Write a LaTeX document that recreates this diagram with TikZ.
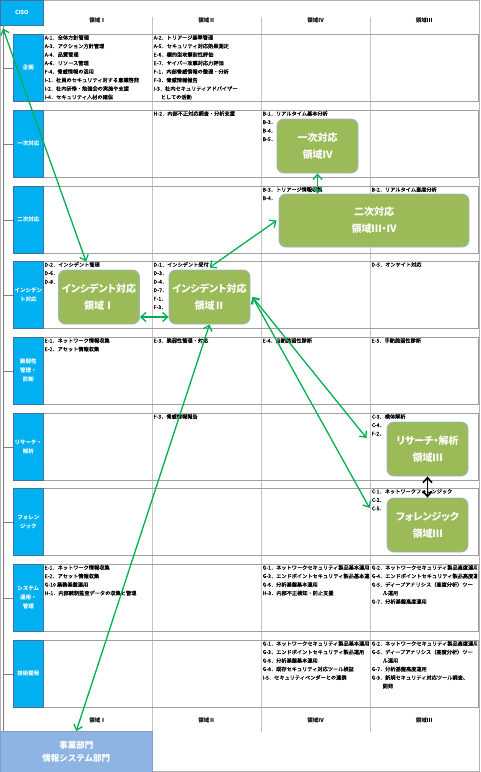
\documentclass[tikz,border=0pt]{standalone}
\usepackage{fontspec}
\setmainfont{Noto Sans CJK JP}
\newfontfamily\jpbox[RawFeature=+palt]{Noto Sans CJK JP}
\newfontfamily\celljp[FakeBold=0.4]{Noto Sans CJK JP}
\usetikzlibrary{arrows.meta}
\definecolor{lblue}{HTML}{00B0F0}
\definecolor{lborder}{HTML}{41719C}
\definecolor{boxgreen}{HTML}{9BBB59}
\definecolor{boxedge}{HTML}{9FB3C8}
\definecolor{agreen}{HTML}{00B050}
\definecolor{rowline}{HTML}{A0A0A0}
\definecolor{colline}{HTML}{C4C4C4}
\definecolor{bizfill}{HTML}{8DB4E2}
\definecolor{bizedge}{HTML}{7F9FC8}
\tikzset{
  rowframe/.style={draw=rowline, line width=1pt, minimum width=465pt, minimum height=67pt, anchor=north west, inner sep=0pt},
  lbl/.style={fill=lblue, draw=lborder, line width=0.6pt, text=white, align=center, inner sep=0pt,
    font=\bfseries\fontsize{5.5}{9}\selectfont},
  rowlbl/.style={lbl, minimum width=30pt, minimum height=67pt, anchor=north west},
  cell/.style={anchor=north west, align=left, inner sep=0pt, font=\celljp\fontsize{5.2}{8.5}\selectfont},
  hdr/.style={font=\bfseries\fontsize{5.5}{7}\selectfont, inner sep=0pt},
  gbox/.style={rounded corners=7pt, fill=boxgreen, draw=boxedge, line width=0.9pt, text=white, align=center,
    minimum width=81pt, minimum height=54pt, inner sep=0pt, font=\jpbox\bfseries\fontsize{10}{17}\selectfont},
  garrow/.style={draw=agreen, line width=1.3pt, {Straight Barb[length=5pt,width=9pt]}-{Straight Barb[length=5pt,width=9pt]}},
  barrow/.style={draw=black, line width=1.6pt, {Straight Barb[length=5pt,width=9pt]}-{Straight Barb[length=5pt,width=9pt]}},
  treeline/.style={draw=gray, line width=0.6pt},
  colsep/.style={draw=colline, line width=0.8pt}
}
\begin{document}
\begin{tikzpicture}[x=1pt,y=-1pt]
\useasboundingbox (0,0) rectangle (480,772);
\fill[white] (0,0) rectangle (480,772);
\draw[draw=gray!60, line width=0.8pt] (0.5,0.5) rectangle (479.5,771.5);

% column separators
\draw[colsep] (152,17) -- (152,732);
\draw[colsep] (261,17) -- (261,732);
\draw[colsep] (370,17) -- (370,732);

% row frames
\node[rowframe] (rf1) at (13,34) {};
\node[rowframe] (rf2) at (13,110) {};
\node[rowframe] (rf3) at (13,186) {};
\node[rowframe] (rf4) at (13,261) {};
\node[rowframe] (rf5) at (13,337) {};
\node[rowframe] (rf6) at (13,413) {};
\node[rowframe] (rf7) at (13,488) {};
\node[rowframe] (rf8) at (13,564) {};
\node[rowframe] (rf9) at (13,640) {};

% CISO
\node[lbl, minimum width=43pt, minimum height=25pt, anchor=north west] (ciso) at (0,0) {CISO};

% row labels
\node[rowlbl] (l1) at (13,34) {企画};
\node[rowlbl] (l2) at (13,110) {一次対応};
\node[rowlbl] (l3) at (13,186) {二次対応};
\node[rowlbl] (l4) at (13,261) {インシデン\\ト対応};
\node[rowlbl] (l5) at (13,337) {脆弱性\\管理・\\診断};
\node[rowlbl] (l6) at (13,413) {リサーチ・\\解析};
\node[rowlbl] (l7) at (13,488) {フォレン\\ジック};
\node[rowlbl] (l8) at (13,564) {システム\\運用・\\管理};
\node[rowlbl] (l9) at (13,640) {技術開発};

% tree line
\draw[treeline] (3,25) -- (3,731);
\foreach \n in {l1,l2,l3,l4,l5,l6,l7,l8,l9} {\draw[treeline] (\n.west) -- ++(-10pt,0);}

% headers
\node[hdr] (h1) at (97.5,20) {領域Ⅰ};
\node[hdr] (h2) at (206.5,20) {領域Ⅱ};
\node[hdr] (h3) at (315.5,20) {領域Ⅳ};
\node[hdr] (h4) at (424,20) {領域Ⅲ};
\node[hdr] (g1) at (97.5,720) {領域Ⅰ};
\node[hdr] (g2) at (206.5,720) {領域Ⅱ};
\node[hdr] (g3) at (315.5,720) {領域Ⅳ};
\node[hdr] (g4) at (424,720) {領域Ⅲ};

% cell texts
\node[cell] (c11) at (44.5,35) {A-1．全体方針管理\\A-3．アクション方針管理\\A-4．品質管理\\A-6．リソース管理\\F-4．脅威情報の活用\\I-1．社員のセキュリティ対する意識啓発\\I-2．社内研修・勉強会の実施や支援\\I-4．セキュリティ人材の確保};
\node[cell] (c12) at (153.5,35) {A-2．トリアージ基準管理\\A-5．セキュリティ対応効果測定\\E-6．標的型攻撃耐性評価\\E-7．サイバー攻撃対応力評価\\F-1．内部脅威情報の整理・分析\\F-3．脅威情報報告\\I-3．社内セキュリティアドバイザー\\\hspace*{7pt}としての活動};

\node[cell] (c22) at (153.5,111) {H-2．内部不正対応調査・分析支援};
\node[cell] (c23) at (262.5,111) {B-1．リアルタイム基本分析\\B-3．\\B-4．\\B-5．};

\node[cell] (c33) at (262.5,187) {B-3．トリアージ情報収集\\B-4．};
\node[cell] (c34) at (371.5,187) {B-2．リアルタイム高度分析};

\node[cell] (c41) at (44.5,262) {D-2．インシデント管理\\D-6．\\D-8．};
\node[cell] (c42) at (153.5,262) {D-1．インシデント受付\\D-3．\\D-4．\\D-7．\\F-1．\\F-3．};
\node[cell] (c44) at (371.5,262) {D-5．オンサイト対応};

\node[cell] (c51) at (44.5,338) {E-1．ネットワーク情報収集\\E-2．アセット情報収集};
\node[cell] (c52) at (153.5,338) {E-3．脆弱性管理・対応};
\node[cell] (c53) at (262.5,338) {E-4．自動脆弱性診断};
\node[cell] (c54) at (371.5,338) {E-5．手動脆弱性診断};

\node[cell] (c62) at (153.5,414) {F-3．脅威情報報告};
\node[cell] (c64) at (371.5,414) {C-3．検体解析\\C-4．\\F-2．};

\node[cell] (c74) at (371.5,489) {C-1．ネットワークフォレンジック\\C-2．\\C-5．};

\node[cell] (c81) at (44.5,565) {E-1．ネットワーク情報収集\\E-2．アセット情報収集\\G-10 業務基盤運用\\H-1．内部統制監査データの収集と管理};
\begin{scope}
\clip (261,560) rectangle (369.6,712);
\node[cell] (c83) at (262.5,565) {G-1．ネットワークセキュリティ製品基本運用\\G-3．エンドポイントセキュリティ製品基本運\\G-6．分析基盤基本運用\\H-3．内部不正検知・防止支援};
\node[cell] (c93) at (262.5,641) {G-1．ネットワークセキュリティ製品基本運用\\G-3．エンドポイントセキュリティ製品運用\\G-6．分析基盤基本運用\\G-8．既存セキュリティ対応ツール検証\\I-5．セキュリティベンダーとの連携};
\end{scope}
\begin{scope}
\clip (370.5,560) rectangle (477,712);
\node[cell] (c84) at (371.5,565) {G-2．ネットワークセキュリティ製品高度運用\\G-4．エンドポイントセキュリティ製品高度運\\G-5．ディープアナリシス（高度分析）ツー\\\hspace*{11pt}ル運用\\G-7．分析基盤高度運用};
\node[cell] (c94) at (371.5,641) {G-2．ネットワークセキュリティ製品高度運用\\G-5．ディープアナリシス（高度分析）ツー\\\hspace*{11pt}ル運用\\G-7．分析基盤高度運用\\G-9．新規セキュリティ対応ツール調査、\\\hspace*{11pt}開発};
\end{scope}

% bottom box
\node[fill=bizfill, draw=bizedge, line width=0.6pt, minimum width=152pt, minimum height=41pt, anchor=north west,
  text=white, align=center, inner sep=0pt, font=\bfseries\fontsize{8.5}{13}\selectfont] (biz) at (0,731) {事業部門\\情報システム部門};

% green boxes
\node[gbox] (b1) at (317.5,146) {一次対応\\領域Ⅳ};
\node[gbox, minimum width=190pt, minimum height=53pt] (b2) at (374,220.5) {二次対応\\領域Ⅲ・Ⅳ};
\node[gbox] (i1) at (99,297) {インシデント対応\\領域Ⅰ};
\node[gbox] (i2) at (209.5,297) {インシデント対応\\領域Ⅱ};
\node[gbox] (r) at (427.5,449) {リサーチ・解析\\領域Ⅲ};
\node[gbox] (f) at (427.5,525) {フォレンジック\\領域Ⅲ};

% arrows
\draw[garrow] ([shift={(3pt,-3pt)}]ciso.south west) -- ([shift={(-13pt,8pt)}]i1.north);
\draw[garrow] ([yshift=2pt]i2.north) -- ([xshift=-2pt]b2.west);
\draw[garrow] (b1.south) -- (b1.south |- b2.north);
\draw[garrow] ([yshift=-20pt]i1.east) -- ([yshift=-20pt]i2.west);
\draw[garrow] ([xshift=2pt]i2.east) -- ([shift={(-20pt,11pt)}]r.west);
\draw[garrow] ([xshift=2pt]i2.east) -- ([shift={(-17pt,17pt)}]f.west);
\draw[barrow] (r.south) -- (f.north);
\draw[garrow] (biz.north) -- (i2.south);
\end{tikzpicture}
\end{document}
